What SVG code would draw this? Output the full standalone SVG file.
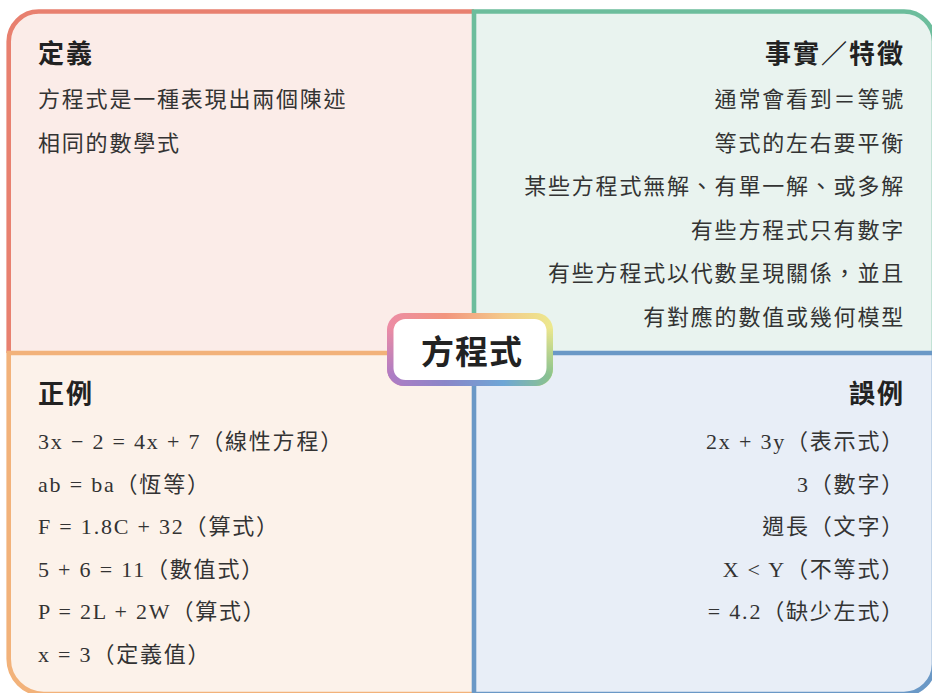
<svg xmlns="http://www.w3.org/2000/svg" width="932" height="693" viewBox="0 0 932 693">
<style>
.title{font-family:"Liberation Serif","Noto Sans CJK TC",serif;font-size:26px;font-weight:bold;fill:#222;letter-spacing:2px}
.body{font-family:"Liberation Serif","Noto Sans CJK TC",serif;font-size:22px;fill:#333;letter-spacing:1.8px}
.end{text-anchor:end}
.edge{fill:none;stroke-width:4.6}
.center{font-family:"Liberation Serif","Noto Sans CJK TC",serif;font-size:33px;font-weight:bold;fill:#222;text-anchor:middle;letter-spacing:1px}
</style>
<defs>
<linearGradient id="gTop" x1="0" y1="0" x2="1" y2="0">
<stop offset="0" stop-color="#ec8ca6"/>
<stop offset="0.35" stop-color="#f2957e"/>
<stop offset="0.7" stop-color="#f4c98a"/>
<stop offset="1" stop-color="#ece98e"/>
</linearGradient>
<linearGradient id="gBot" x1="0" y1="0" x2="1" y2="0">
<stop offset="0" stop-color="#b07cc4"/>
<stop offset="0.35" stop-color="#8a86c8"/>
<stop offset="0.7" stop-color="#6ea6d6"/>
<stop offset="1" stop-color="#8cc48a"/>
</linearGradient>
<linearGradient id="gMask" x1="0" y1="0" x2="0" y2="1">
<stop offset="0.2" stop-color="#000"/>
<stop offset="0.85" stop-color="#fff"/>
</linearGradient>
<mask id="mBot" maskUnits="userSpaceOnUse" x="380" y="305" width="180" height="90">
<rect x="387" y="313" width="166" height="73" fill="url(#gMask)"/>
</mask>
</defs>

<g id="quadrant-definition">
<path d="M8.7,353 V41.5 A30,30 0 0 1 38.7,11.5 H474 V353 Z" fill="#fbece8"/>
<path class="edge" d="M8.7,353 V41.5 A30,30 0 0 1 38.7,11.5 H474" stroke="#e8806f"/>
<text class="title" x="38" y="63">定義</text>
<text class="body" x="38" y="107">方程式是一種表現出兩個陳述</text>
<text class="body" x="38" y="150.5">相同的數學式</text>
</g>

<g id="quadrant-facts">
<path d="M474,11.5 H904 A30,30 0 0 1 934,41.5 V353 H474 Z" fill="#e9f3ef"/>
<path class="edge" d="M474,353 V11.5 H904 A30,30 0 0 1 934,41.5 V353" stroke="#6cbd9c"/>
<text class="title end" x="905" y="63">事實／特徵</text>
<text class="body end" x="905" y="107">通常會看到＝等號</text>
<text class="body end" x="905" y="150.5">等式的左右要平衡</text>
<text class="body end" x="905" y="194">某些方程式無解、有單一解、或多解</text>
<text class="body end" x="905" y="237.5">有些方程式只有數字</text>
<text class="body end" x="905" y="281">有些方程式以代數呈現關係，並且</text>
<text class="body end" x="905" y="324.5">有對應的數值或幾何模型</text>
</g>

<g id="quadrant-examples">
<path d="M8.7,353 H474 V694 H43.7 A35,35 0 0 1 8.7,659 Z" fill="#fcf2ea"/>
<path class="edge" d="M474,353 H8.7 V659 A35,35 0 0 0 43.7,694 H474" stroke="#f2b27a"/>
<text class="title" x="38" y="403">正例</text>
<text class="body" x="38" y="449">3x − 2 = 4x + 7（線性方程）</text>
<text class="body" x="38" y="491.6">ab = ba（恆等）</text>
<text class="body" x="38" y="534.2">F = 1.8C + 32（算式）</text>
<text class="body" x="38" y="576.8">5 + 6 = 11（數值式）</text>
<text class="body" x="38" y="619.4">P = 2L + 2W（算式）</text>
<text class="body" x="38" y="662">x = 3（定義值）</text>
</g>

<g id="quadrant-nonexamples">
<path d="M474,353 H934 V664 A30,30 0 0 1 904,694 H474 Z" fill="#e8eef7"/>
<path class="edge" d="M474,353 H934 V664 A30,30 0 0 1 904,694 H474 Z" stroke="#6a98c6"/>
<text class="title end" x="905" y="403">誤例</text>
<text class="body end" x="905" y="449">2x + 3y（表示式）</text>
<text class="body end" x="905" y="491.6">3（數字）</text>
<text class="body end" x="905" y="534.2">週長（文字）</text>
<text class="body end" x="905" y="576.8">X &lt; Y（不等式）</text>
<text class="body end" x="905" y="619.4">= 4.2（缺少左式）</text>
</g>

<g id="connectors"></g>

<g id="center-node">
<rect x="387" y="313" width="166" height="73" rx="17" fill="url(#gTop)"/>
<rect x="387" y="313" width="166" height="73" rx="17" fill="url(#gBot)" mask="url(#mBot)"/>
<rect x="393.5" y="319" width="153" height="61" rx="12" fill="#ffffff"/>
<text class="center" x="472" y="364">方程式</text>
</g>
</svg>
